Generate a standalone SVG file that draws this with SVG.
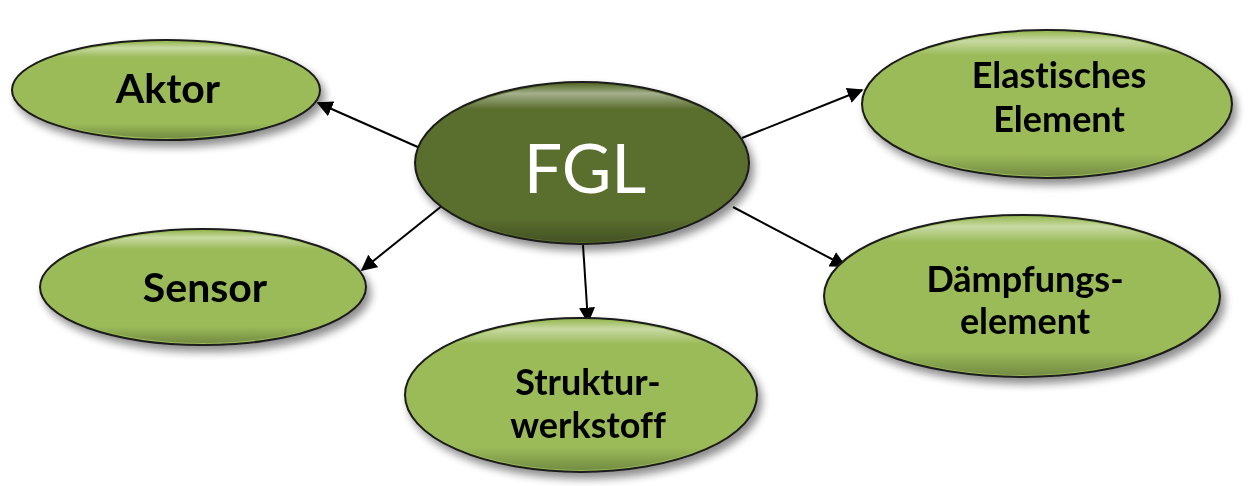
<svg xmlns="http://www.w3.org/2000/svg" width="1252" height="486" viewBox="0 0 1252 486">
<defs>
<filter id="sh" x="-20%" y="-20%" width="140%" height="150%">
<feGaussianBlur in="SourceAlpha" stdDeviation="4"/>
<feOffset dx="4" dy="6" result="b"/>
<feComponentTransfer><feFuncA type="linear" slope="0.45"/></feComponentTransfer>
<feMerge><feMergeNode/><feMergeNode in="SourceGraphic"/></feMerge>
</filter>
<linearGradient id="hl" x1="0" y1="0" x2="0" y2="1">
<stop offset="0" stop-color="#fff" stop-opacity="0"/>
<stop offset="0.06" stop-color="#fff" stop-opacity="0.45"/>
<stop offset="0.16" stop-color="#fff" stop-opacity="0"/>
<stop offset="0.85" stop-color="#000" stop-opacity="0"/>
<stop offset="1" stop-color="#000" stop-opacity="0.25"/>
</linearGradient>
<marker id="ar" viewBox="0 0 10 10" refX="9" refY="5" markerWidth="8" markerHeight="8" orient="auto" markerUnits="strokeWidth">
<path d="M0,0 L10,5 L0,10 z" fill="#000"/>
</marker>
<style>
.outer{fill:#9bbb59;stroke:#1a1a1a;stroke-width:2}
.center{fill:#5a6e2e;stroke:#1a1a1a;stroke-width:2}
.hl{fill:url(#hl);stroke:none}
.lbl{font-family:Lato,"Open Sans",sans-serif;font-weight:bold;fill:#000;text-anchor:middle;font-variant-ligatures:none}
.big{font-size:41px}
.small{font-size:36px}
.conn line{stroke:#000;stroke-width:2;marker-end:url(#ar)}
</style>
</defs>
<rect width="1252" height="486" fill="#fff"/>
<g id="connectors" class="conn">
<line x1="420" y1="148" x2="318" y2="103"/>
<line x1="443" y1="205" x2="362" y2="270"/>
<line x1="583" y1="245" x2="588" y2="322"/>
<line x1="742" y1="138" x2="862" y2="90"/>
<line x1="733" y1="207" x2="845" y2="266"/>
</g>
<g id="aktor" filter="url(#sh)">
<ellipse class="outer" cx="166" cy="90" rx="154" ry="50"/>
<ellipse class="hl" cx="166" cy="90" rx="152" ry="48"/>
<text class="lbl big" x="168" y="103">Aktor</text>
</g>
<g id="sensor" filter="url(#sh)">
<ellipse class="outer" cx="203" cy="287" rx="163" ry="58"/>
<ellipse class="hl" cx="203" cy="287" rx="161" ry="56"/>
<text class="lbl big" x="205" y="302">Sensor</text>
</g>
<g id="strukturwerkstoff" filter="url(#sh)">
<ellipse class="outer" cx="581" cy="395" rx="176" ry="77"/>
<ellipse class="hl" cx="581" cy="395" rx="174" ry="75"/>
<text class="lbl small" x="588" y="395">Struktur-</text>
<text class="lbl small" x="588" y="438">werkstoff</text>
</g>
<g id="elastisches" filter="url(#sh)">
<ellipse class="outer" cx="1047" cy="104" rx="185" ry="74"/>
<ellipse class="hl" cx="1047" cy="104" rx="183" ry="72"/>
<text class="lbl small" x="1059" y="88">Elastisches</text>
<text class="lbl small" x="1059" y="132">Element</text>
</g>
<g id="daempfung" filter="url(#sh)">
<ellipse class="outer" cx="1022" cy="296" rx="198" ry="81"/>
<ellipse class="hl" cx="1022" cy="296" rx="196" ry="79"/>
<text class="lbl small" x="1025" y="292">Dämpfungs-</text>
<text class="lbl small" x="1025" y="334">element</text>
</g>
<g id="fgl" filter="url(#sh)">
<ellipse class="center" cx="582" cy="163" rx="167" ry="81"/>
<ellipse class="hl" cx="582" cy="163" rx="165" ry="79"/>
<text x="585" y="193" font-family="Lato,'Open Sans',sans-serif" font-size="68" fill="#fff" text-anchor="middle">FGL</text>
</g>
</svg>
